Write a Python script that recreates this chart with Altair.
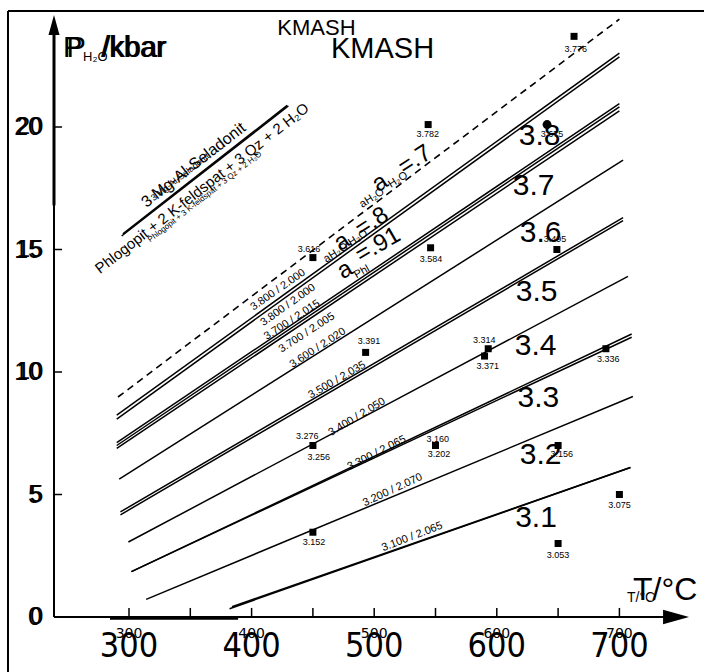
import altair as alt
import pandas as pd

# ---------------- scale frame (T in degC, P in kbar) ----------------
T_MIN, T_MAX = 194.78, 769.0
P_MIN, P_MAX = -2.245, 25.184

# ---------------- straight reaction lines: T0, P0, T1, P1 ----------------
solid_T0 = [290, 290, 290, 290, 290, 292, 293, 293, 299.5, 302, 302, 314, 382, 384, 294, 295]
solid_P0 = [8.24, 8.08, 7.12, 7.00, 6.88, 5.63, 4.29, 4.17, 3.06, 1.85, 1.85, 0.72, 0.34, 0.42, 15.55, 15.64]
solid_T1 = [700, 700, 700, 700, 700, 703, 703, 703, 707, 710, 710, 711, 709, 709, 430, 429]
solid_P1 = [23.02, 22.86, 20.95, 20.82, 20.66, 18.65, 16.30, 16.18, 13.90, 11.55, 11.42, 9.00, 6.10, 6.10, 20.86, 20.88]

dash_T0, dash_P0, dash_T1, dash_P1 = [291], [8.98], [700], [24.4]

# ---------------- axes ----------------
axis_T = 238.83
x_axis_end = 740.0
y_axis_end = 23.76
x_ticks = [300, 350, 400, 450, 500, 550, 600, 650, 700]
x_labels = [300, 400, 500, 600, 700]
y_ticks = [5, 10, 15, 20]
y_labels = [0, 5, 10, 15, 20]

# ---------------- sample points ----------------
sq_T = [450, 546, 544, 663, 649, 493, 593, 590, 689, 450, 550, 650, 700, 650, 450]
sq_P = [14.67, 15.07, 20.1, 23.7, 15.0, 10.8, 10.95, 10.65, 10.95, 7.0, 7.0, 7.0, 5.0, 3.0, 3.46]
dot_T, dot_P = [641], [20.1]

pl_text = ["3.616", "3.584", "3.782", "3.675", "3.776", "3.495", "3.391", "3.314", "3.371",
           "3.336", "3.276", "3.256", "3.160", "3.202", "3.156", "3.075", "3.053", "3.152"]
pl_T = [446.8, 546.3, 543.6, 645, 664.4, 647.5, 495.8, 589.8, 592.6,
        691, 445.4, 454.7, 551.8, 552.9, 653, 700, 650, 450.9]
pl_P = [15.04, 14.63, 19.7, 19.71, 23.2, 15.42, 11.27, 11.3, 10.24,
        10.53, 7.39, 6.54, 7.27, 6.64, 6.64, 4.57, 2.53, 3.07]

# ---------------- line labels ----------------
ll_text = ["3.800 / 2.000", "3.800 / 2.000", "3.700 / 2.015", "3.700 / 2.005", "3.600 / 2.020",
           "3.500 / 2.035", "3.400 / 2.050", "3.300 / 2.065", "3.200 / 2.070", "3.100 / 2.065"]
ll_T = [421.5, 429.7, 433, 445, 454, 469.7, 486, 502, 515, 531]
ll_P = [13.35, 12.73, 12.12, 11.6, 10.98, 9.67, 8.16, 6.69, 5.18, 3.27]
ll_rot = [35, 35.5, 33, 33, 33, 30, 31, 27, 25, 21]

# ---------------- field labels ----------------
reg_text = ["3.8", "3.7", "3.6", "3.5", "3.4", "3.3", "3.2", "3.1"]
reg_T = [635, 630, 635.8, 632.5, 631.7, 633.9, 635.8, 632]
reg_P = [19.64, 17.6, 15.66, 13.28, 11.06, 8.93, 6.61, 4.04]

# ---------------- activity labels ----------------
act_text = ["a", "=.7", "a", "=.8", "a", "=.91"]
act_T = [504.7, 533.3, 473.7, 498.2, 476.2, 503.1]
act_P = [17.71, 18.65, 15.31, 16.12, 14.16, 15.18]
act_rot = [33, 33, 33, 33, 30, 30]
sub_text = ["H₂O", "H₂O", "Phl", "aH₂O", "aH₂O"]
sub_T = [519.4, 486.8, 490, 498.2, 468.8]
sub_P = [17.84, 15.47, 14.08, 17.1, 14.86]
sub_rot = [33, 33, 30, 33, 33]

# ---------------- reaction text ----------------
rx_text = ["3 Mg-Al-Seladonit", "3 Mg-Al-Seladonit",
           "Phlogopit + 2 K-feldspat + 3 Qz + 2 H₂O", "Phlogopit + 3 K-feldspat + 3 Qz + 2 H₂O"]
rx_T = [352.6, 341.6, 359.5, 362]
rx_P = [18.45, 17.96, 17.5, 17.14]
rx_size = [16, 9, 15, 8]
rx_rot = [38, 38, 38, 38]

# ---------------- titles ----------------
ttl_text = ["P", "P", "H₂O", "/kbar", "/kbar", "KMASH", "KMASH", "T/°C", "T/°C"]
ttl_T = [246.2, 249.0, 262.5, 277.2, 278.4, 506.8, 452.9, 711.1, 706.2]
ttl_P = [22.857, 22.857, 22.694, 22.857, 22.857, 22.816, 23.755, 0.694, 0.612]
ttl_size = [29, 29, 13, 29, 29, 29, 22, 32, 14]
ttl_align = ["left", "left", "left", "left", "left", "center", "center", "left", "left"]

# frame (left and top border)
frame_T, frame_P = 201.3, 24.73

SANS = "Liberation Sans"
NARROW = "Liberation Sans Narrow, DejaVu Sans Condensed, Liberation Sans"

xs = alt.Scale(domain=[T_MIN, T_MAX], nice=False, zero=False)
ys = alt.Scale(domain=[P_MIN, P_MAX], nice=False, zero=False)


def X(f="T"):
    return alt.X(f"{f}:Q", scale=xs, axis=None)


def Y(f="P"):
    return alt.Y(f"{f}:Q", scale=ys, axis=None)


def segs(T0, P0, T1, P1, width, dash=None):
    df = pd.DataFrame({"T": T0, "P": P0, "T2": T1, "P2": P1})
    kw = dict(color="black", strokeWidth=width)
    if dash:
        kw["strokeDash"] = dash
    return alt.Chart(df).mark_rule(**kw).encode(
        x=X(), y=Y(), x2=alt.X2("T2:Q"), y2=alt.Y2("P2:Q"))


def texts(text, T, P, size, rot=None, font=SANS, align="center", baseline="middle", dx=0):
    n = len(text)
    if not isinstance(size, list):
        size = [size] * n
    if rot is None:
        rot = [0] * n
    ang = [(360 - r) % 360 for r in rot]
    df = pd.DataFrame({"t": text, "T": T, "P": P, "s": size, "a": ang})
    return alt.Chart(df).mark_text(font=font, align=align, baseline=baseline,
                                   color="black", dx=dx).encode(
        x=X(), y=Y(), text="t:N",
        size=alt.Size("s:Q", scale=None, legend=None),
        angle=alt.Angle("a:Q", scale=None))


layers = []
# frame
layers.append(segs([frame_T], [frame_P], [T_MAX], [frame_P], 2))
layers.append(segs([frame_T], [frame_P], [frame_T], [P_MIN], 2))
# axes
layers.append(segs([axis_T], [0], [x_axis_end], [0], 2))
layers.append(segs([284.5], [-0.05], [389], [-0.05], 3))
layers.append(segs([axis_T], [0], [axis_T], [y_axis_end], 2))
layers.append(segs([axis_T], [16.8], [axis_T], [y_axis_end], 3))
layers.append(segs(x_ticks, [0] * len(x_ticks), x_ticks, [0.37] * len(x_ticks), 1.5))
layers.append(segs([axis_T] * len(y_ticks), y_ticks, [245.4] * len(y_ticks), y_ticks, 1.5))
# arrows
arr_x = pd.DataFrame({"T": [746.2], "P": [0]})
layers.append(alt.Chart(arr_x).mark_point(shape="M -1 -0.55 L 1 0 L -1 0.55 Z", size=676,
                                          filled=True, color="black", opacity=1).encode(x=X(), y=Y()))
arr_y = pd.DataFrame({"T": [axis_T], "P": [24.16]})
layers.append(alt.Chart(arr_y).mark_point(shape="M -0.55 1 L 0 -1 L 0.55 1 Z", size=400,
                                          filled=True, color="black", opacity=1).encode(x=X(), y=Y()))
# reaction lines
layers.append(segs(solid_T0, solid_P0, solid_T1, solid_P1, 1.5))
layers.append(segs(dash_T0, dash_P0, dash_T1, dash_P1, 1.6, [7, 5]))
# points
layers.append(alt.Chart(pd.DataFrame({"T": sq_T, "P": sq_P})).mark_square(
    size=49, color="black", opacity=1).encode(x=X(), y=Y()))
layers.append(alt.Chart(pd.DataFrame({"T": dot_T, "P": dot_P})).mark_circle(
    size=80, color="black", opacity=1).encode(x=X(), y=Y()))
# texts
layers.append(texts(pl_text, pl_T, pl_P, 9))
layers.append(texts(ll_text, ll_T, ll_P, 11, ll_rot))
layers.append(texts(reg_text, reg_T, reg_P, 30))
layers.append(texts(act_text, act_T, act_P, 24, act_rot))
layers.append(texts(sub_text, sub_T, sub_P, 11, sub_rot))
layers.append(texts(rx_text, rx_T, rx_P, rx_size, rx_rot))
for al in ["left", "center"]:
    idx = [i for i, a in enumerate(ttl_align) if a == al]
    layers.append(texts([ttl_text[i] for i in idx], [ttl_T[i] for i in idx],
                        [ttl_P[i] for i in idx], [ttl_size[i] for i in idx],
                        align=al, baseline="alphabetic"))
# tick labels
xl = [str(v) for v in x_labels]
layers.append(texts(xl, x_labels, [-1.633] * len(xl), 34, font=NARROW, baseline="alphabetic"))
layers.append(texts(xl, x_labels, [-0.857] * len(xl), 14, font="DejaVu Sans", baseline="alphabetic"))
yl = [str(v) for v in y_labels]
layers.append(texts(yl, [229.0] * len(yl), y_labels, 25, align="right"))
layers.append(texts(yl, [230.2] * len(yl), y_labels, 24, align="right"))

chart = alt.layer(*layers).properties(
    width=704, height=672, padding=0, autosize="none", background="white"
).configure_view(strokeWidth=0)

chart.save("out.html", embed_options={"renderer": "svg", "actions": False})
